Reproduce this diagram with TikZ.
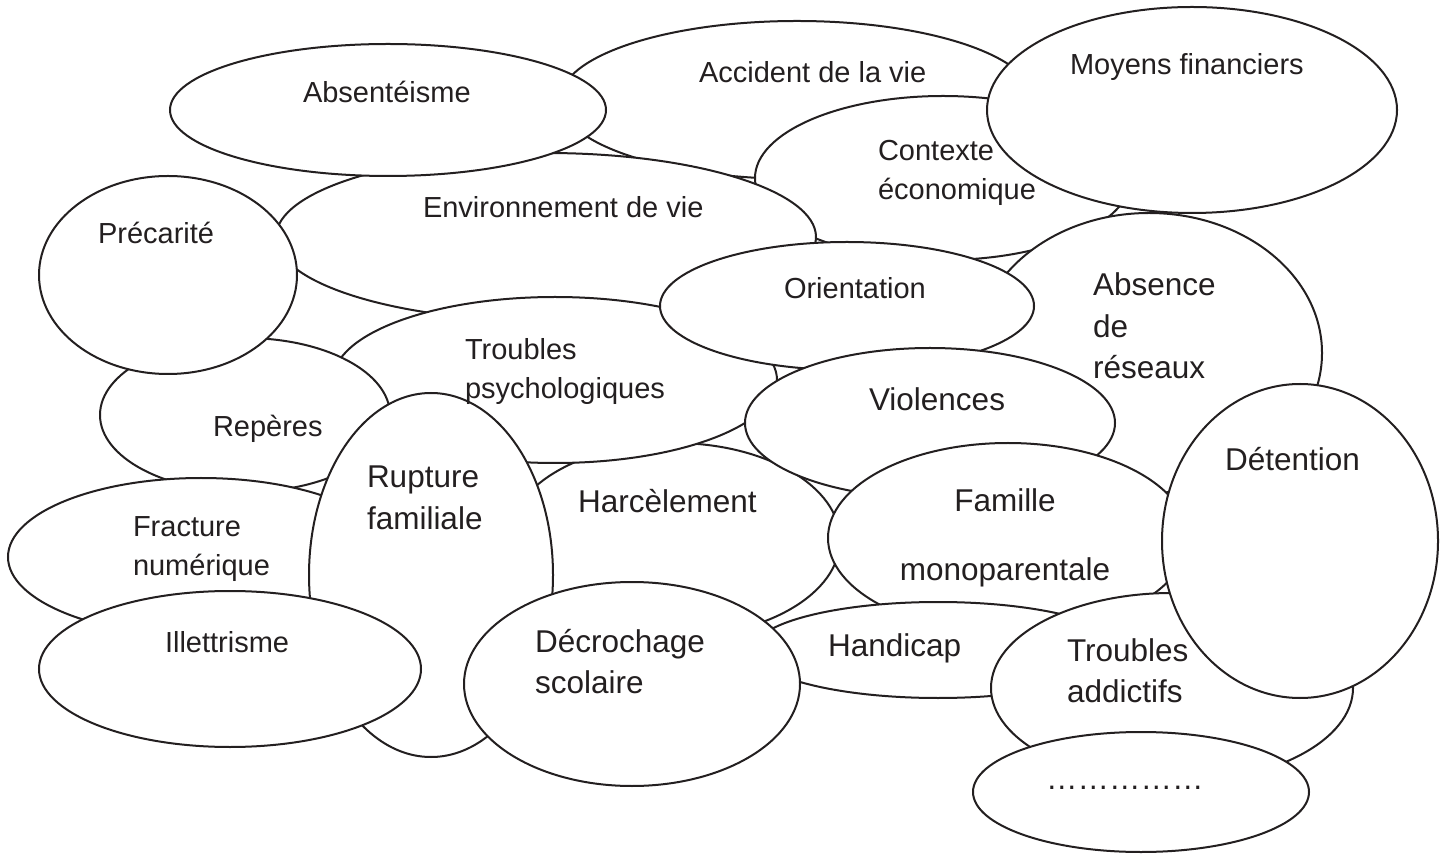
\documentclass[tikz,border=0pt]{standalone}
\usepackage{fontspec}
\setmainfont{Liberation Sans}
\usetikzlibrary{shapes.geometric}
\definecolor{ink}{RGB}{35,31,32}
\newcommand{\smallsz}{\fontsize{14.5}{19.2}\selectfont}
\newcommand{\bigsz}{\fontsize{15.75}{20.7}\selectfont}
\begin{document}
\begin{tikzpicture}[x=0.5pt,y=-0.5pt,
  blob/.style={ellipse, draw=ink, line width=1pt, fill=white, inner sep=0pt, outer sep=0pt},
  lab/.style={inner sep=0pt, outer sep=0pt, text=ink, anchor=base west, font=\smallsz},
  biglab/.style={lab, font=\bigsz}]
\fill[white] (0,0) rectangle (1449,854);
\useasboundingbox (0,0) rectangle (1449,854);

% ellipses, back to front (minimum width/height in pt = radius in px)
\node[blob, minimum width=237pt, minimum height=79pt] (accident) at (797,100) {};
\node[blob, minimum width=188pt, minimum height=82pt] (contexte) at (943,178) {};
\node[blob, minimum width=270pt, minimum height=84pt] (environ) at (546,237) {};
\node[blob, minimum width=218pt, minimum height=66pt] (absent) at (388,110) {};
\node[blob, minimum width=205pt, minimum height=103pt] (moyens) at (1192,110) {};
\node[blob, minimum width=173pt, minimum height=140pt] (absence) at (1149,353) {};
\node[blob, minimum width=166pt, minimum height=97pt] (harcel) at (674,540) {};
\node[blob, minimum width=222pt, minimum height=83pt] (tpsy) at (555,380) {};
\node[blob, minimum width=187pt, minimum height=64pt] (orient) at (847,306) {};
\node[blob, minimum width=145pt, minimum height=77pt] (reperes) at (245,415) {};
\node[blob, minimum width=129pt, minimum height=99pt] (precar) at (168,275) {};
\node[blob, minimum width=185pt, minimum height=75pt] (violen) at (930,423) {};
\node[blob, minimum width=193pt, minimum height=79pt] (fract) at (201,557) {};
\node[blob, minimum width=122pt, minimum height=182pt] (rupt) at (431,575) {};
\node[blob, minimum width=191pt, minimum height=78pt] (illet) at (230,669) {};
\node[blob, minimum width=180pt, minimum height=95pt] (famille) at (1008,538) {};
\node[blob, minimum width=185pt, minimum height=48pt] (handi) at (938,650) {};
\node[blob, minimum width=168pt, minimum height=102pt] (decro) at (632,684) {};
\node[blob, minimum width=181pt, minimum height=95pt] (tadd) at (1172,688) {};
\node[blob, minimum width=138pt, minimum height=157pt] (deten) at (1300,541) {};
\node[blob, minimum width=168pt, minimum height=60pt] (dots) at (1141,792) {};

% texts
\node[lab] (tAccident) at (699,83) {Accident de la vie};
\node[lab] (tContexte) at (878,161) {\begin{tabular}[t]{@{}l@{}}Contexte\\économique\end{tabular}};
\node[lab] (tEnviron) at (423,218) {Environnement de vie};
\node[lab] (tAbsent) at (303,103) {Absentéisme};
\node[lab] (tMoyens) at (1070,75) {Moyens financiers};
\node[biglab] (tAbsence) at (1093,296) {\begin{tabular}[t]{@{}l@{}}Absence\\de\\réseaux\end{tabular}};
\node[lab] (tTpsy) at (465,360) {\begin{tabular}[t]{@{}l@{}}Troubles\\psychologiques\end{tabular}};
\node[lab] (tOrient) at (784,299) {Orientation};
\node[lab] (tReperes) at (213,437) {Repères};
\node[lab] (tPrecar) at (98,244) {Précarité};
\node[biglab] (tHarcel) at (578,513) {Harcèlement};
\node[biglab] (tViolen) at (869,411) {Violences};
\node[lab] (tFract) at (133,537) {\begin{tabular}[t]{@{}l@{}}Fracture\\numérique\end{tabular}};
\node[biglab] (tRupt) at (367,488) {\begin{tabular}[t]{@{}l@{}}Rupture\\familiale\end{tabular}};
\node[lab] (tIllet) at (165,652) {Illettrisme};
\node[biglab, anchor=base] (tFamille) at (1005,512) {\begin{tabular}[t]{@{}c@{}}Famille\\[13.8pt]monoparentale\end{tabular}};
\node[biglab] (tHandi) at (828,656) {Handicap};
\node[biglab] (tDecro) at (535,652) {\begin{tabular}[t]{@{}l@{}}Décrochage\\scolaire\end{tabular}};
\node[biglab] (tTadd) at (1067,661) {\begin{tabular}[t]{@{}l@{}}Troubles\\addictifs\end{tabular}};
\node[biglab] (tDeten) at (1225,471) {Détention};
\node[biglab] (tDots) at (1046,789) {……………};
\end{tikzpicture}
\end{document}
